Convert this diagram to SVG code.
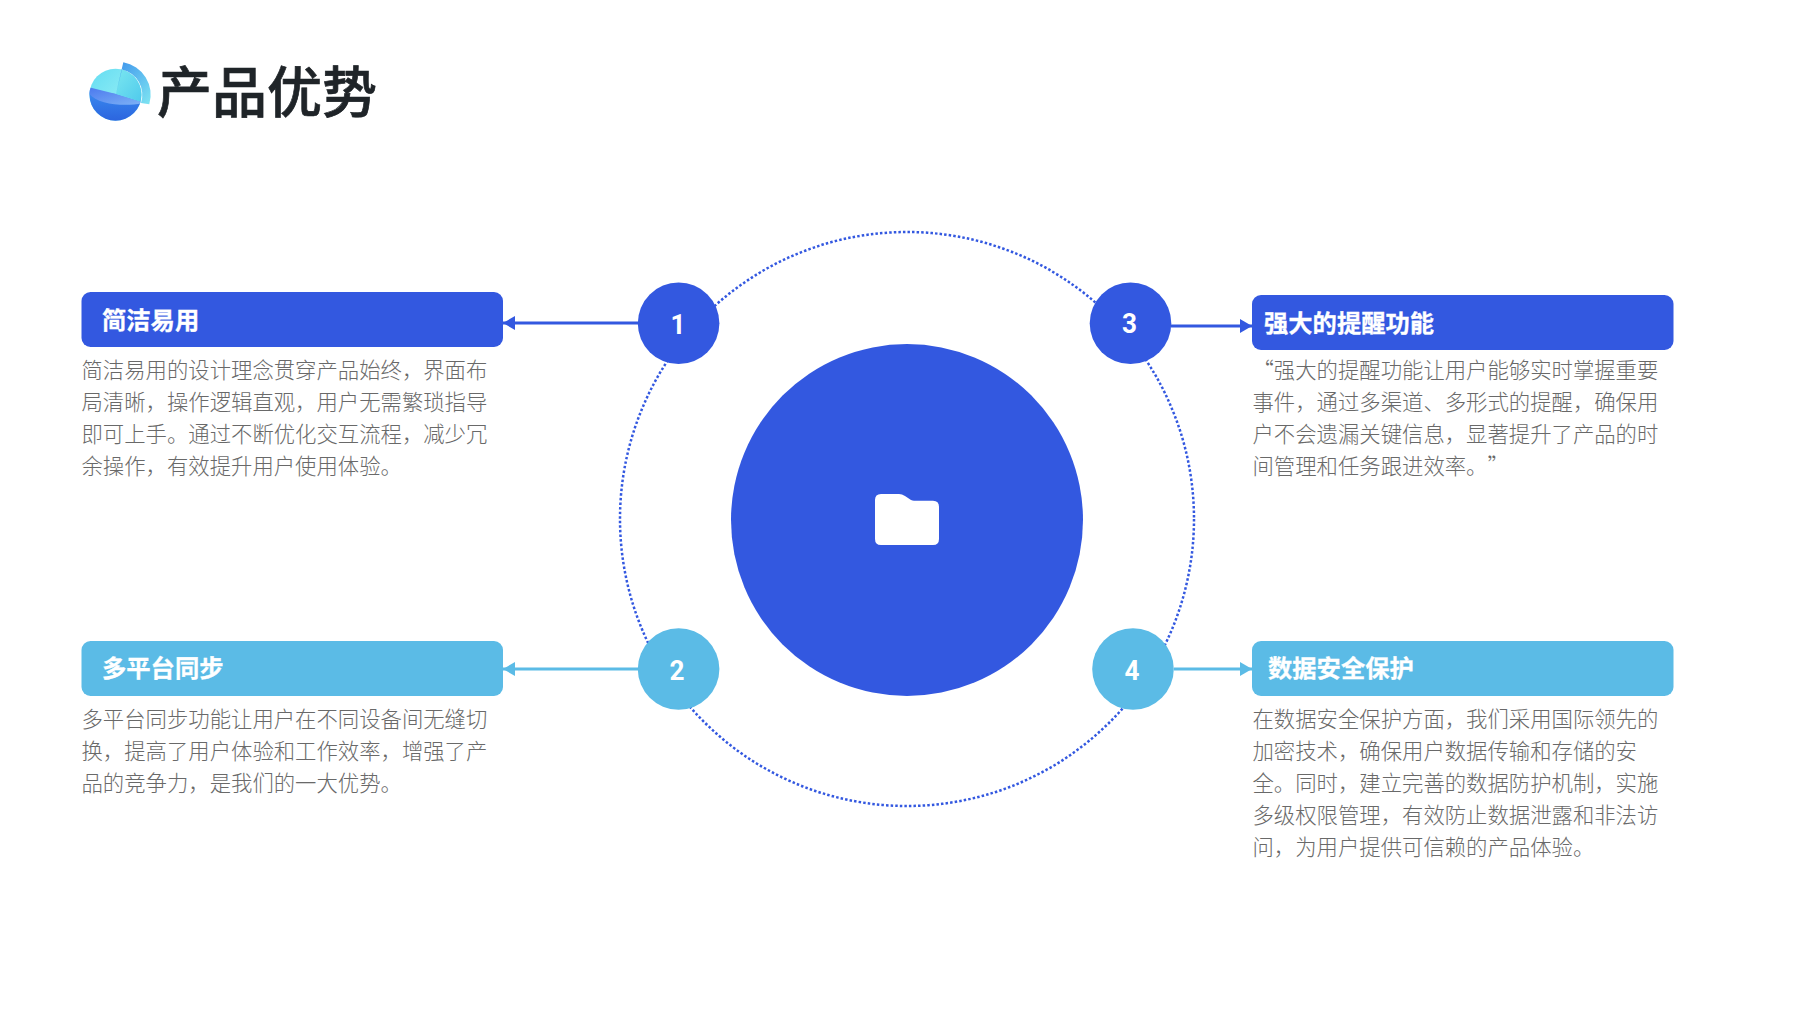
<svg xmlns="http://www.w3.org/2000/svg" width="1796" height="1010" viewBox="0 0 1796 1010">
<defs>
<style>
text{font-family:"Noto Sans CJK SC","Noto Sans",sans-serif;text-spacing-trim:space-all}
.ttl{font-size:55px;font-weight:500;fill:#1f2428;stroke:#1f2428;stroke-width:.7}
.hd{font-size:24.3px;font-weight:700;fill:#fff;stroke:#fff;stroke-width:.3}
.bd{font-size:21.36px;font-weight:300;fill:#696969}
.num{font-family:Roboto,"Liberation Sans",sans-serif;font-size:28px;font-weight:700;fill:#fff;text-anchor:middle}
.blue{fill:#3358e0}.sky{fill:#5bbbe6}
.lb{stroke:#3358e0;stroke-width:3;fill:none}
.ls{stroke:#5bbbe6;stroke-width:3;fill:none}
</style>
<marker id="ab" markerUnits="userSpaceOnUse" markerWidth="12" markerHeight="14" refX="12" refY="7" orient="auto"><path d="M0 0L12 7L0 14Z" fill="#3358e0"/></marker>
<marker id="as" markerUnits="userSpaceOnUse" markerWidth="12" markerHeight="14" refX="12" refY="7" orient="auto"><path d="M0 0L12 7L0 14Z" fill="#5bbbe6"/></marker>
<linearGradient id="gTop" x1="0" y1="0" x2="1" y2="1"><stop offset="0" stop-color="#63dcf2"/><stop offset="1" stop-color="#a8f6f6"/></linearGradient>
<linearGradient id="gLow" x1="0" y1="0" x2="0" y2="1"><stop offset="0" stop-color="#3a8cf0"/><stop offset="1" stop-color="#2a5fdc"/></linearGradient>
<linearGradient id="gCut" x1="0" y1="0" x2="1" y2="1"><stop offset="0" stop-color="#4a78ee"/><stop offset="1" stop-color="#7fb4f6"/></linearGradient>
<linearGradient id="gRim" x1="0" y1="0" x2="1" y2="1"><stop offset="0" stop-color="#3d92ec"/><stop offset="1" stop-color="#7fe6f2"/></linearGradient>
<linearGradient id="gIn" x1="0" y1="0" x2="1" y2="1"><stop offset="0" stop-color="#7ce8f0"/><stop offset="1" stop-color="#4cc8ec"/></linearGradient>
<clipPath id="sphere"><circle cx="115.500" cy="94.700" r="26"/></clipPath>
</defs>
<rect width="1796" height="1010" fill="#fff"/>
<g id="title">
<circle cx="115.500" cy="94.700" r="26" fill="url(#gTop)"/>
<g clip-path="url(#sphere)">
<path d="M88 90L116 94L145 103V125H88Z" fill="url(#gLow)"/>
<path d="M88 87L116 94L145 103C125 107 96 105 88 92Z" fill="url(#gCut)"/>
<path d="M116 94L122 66L145 75V103Z" fill="url(#gIn)"/>
</g>
<path d="M116 94L123.300 62.300A33 33 0 0 1 149.300 104.300L141 103A26 26 0 0 0 122 69.500Z" fill="url(#gRim)"/>
<text class="ttl" x="157" y="112">产品优势</text>
</g>
<circle id="ring" cx="907" cy="519" r="287" fill="none" stroke="#3358e0" stroke-width="2.500" stroke-dasharray="2.500 2.100"/>
<g id="connectors">
<line class="lb" x1="638" y1="323" x2="503" y2="323" marker-end="url(#ab)"/>
<line class="ls" x1="638" y1="669" x2="503" y2="669" marker-end="url(#as)"/>
<line class="lb" x1="1171" y1="326" x2="1252" y2="326" marker-end="url(#ab)"/>
<line class="ls" x1="1174" y1="669" x2="1252" y2="669" marker-end="url(#as)"/>
</g>
<g id="center"><circle class="blue" cx="907" cy="520" r="176"/>
<path d="M881 494H899Q902 494 905 496L911 500Q912.500 500.800 914 500.800H933Q939 500.800 939 506.800V539Q939 545 933 545H881Q875 545 875 539V500Q875 494 881 494Z" fill="#fff"/></g>
<g id="node-1">
<circle class="blue" cx="678.600" cy="323.300" r="40.800"/>
<text class="num" x="678" y="333.500" textLength="15" lengthAdjust="spacingAndGlyphs">1</text>
<rect class="blue" x="81.500" y="292" width="421.500" height="55" rx="9"/>
<text class="hd" x="102" y="328.500">简洁易用</text>
<text class="bd"><tspan x="81.500" y="378">简洁易用的设计理念贯穿产品始终，界面布</tspan><tspan x="81.500" y="410">局清晰，操作逻辑直观，用户无需繁琐指导</tspan><tspan x="81.500" y="442">即可上手。通过不断优化交互流程，减少冗</tspan><tspan x="81.500" y="474">余操作，有效提升用户使用体验。</tspan></text>
</g>
<g id="node-2">
<circle class="sky" cx="678.600" cy="669" r="40.800"/>
<text class="num" x="677" y="679.500" textLength="15" lengthAdjust="spacingAndGlyphs">2</text>
<rect class="sky" x="81.500" y="641" width="421.500" height="55" rx="9"/>
<text class="hd" x="102" y="677">多平台同步</text>
<text class="bd"><tspan x="81.500" y="727">多平台同步功能让用户在不同设备间无缝切</tspan><tspan x="81.500" y="759">换，提高了用户体验和工作效率，增强了产</tspan><tspan x="81.500" y="791">品的竞争力，是我们的一大优势。</tspan></text>
</g>
<g id="node-3">
<circle class="blue" cx="1130.500" cy="323.300" r="40.800"/>
<text class="num" x="1129.500" y="333" textLength="15" lengthAdjust="spacingAndGlyphs">3</text>
<rect class="blue" x="1252" y="295" width="421.500" height="55" rx="9"/>
<text class="hd" x="1264" y="332">强大的提醒功能</text>
<text class="bd"><tspan x="1252.500" y="378">“强大的提醒功能让用户能够实时掌握重要</tspan><tspan x="1252.500" y="410">事件，通过多渠道、多形式的提醒，确保用</tspan><tspan x="1252.500" y="442">户不会遗漏关键信息，显著提升了产品的时</tspan><tspan x="1252.500" y="474">间管理和任务跟进效率。”</tspan></text>
</g>
<g id="node-4">
<circle class="sky" cx="1133" cy="669" r="40.800"/>
<text class="num" x="1132" y="680" textLength="15" lengthAdjust="spacingAndGlyphs">4</text>
<rect class="sky" x="1252" y="641" width="421.500" height="55" rx="9"/>
<text class="hd" x="1268" y="677">数据安全保护</text>
<text class="bd"><tspan x="1252.500" y="727">在数据安全保护方面，我们采用国际领先的</tspan><tspan x="1252.500" y="759">加密技术，确保用户数据传输和存储的安</tspan><tspan x="1252.500" y="791">全。同时，建立完善的数据防护机制，实施</tspan><tspan x="1252.500" y="823">多级权限管理，有效防止数据泄露和非法访</tspan><tspan x="1252.500" y="855">问，为用户提供可信赖的产品体验。</tspan></text>
</g>
</svg>
